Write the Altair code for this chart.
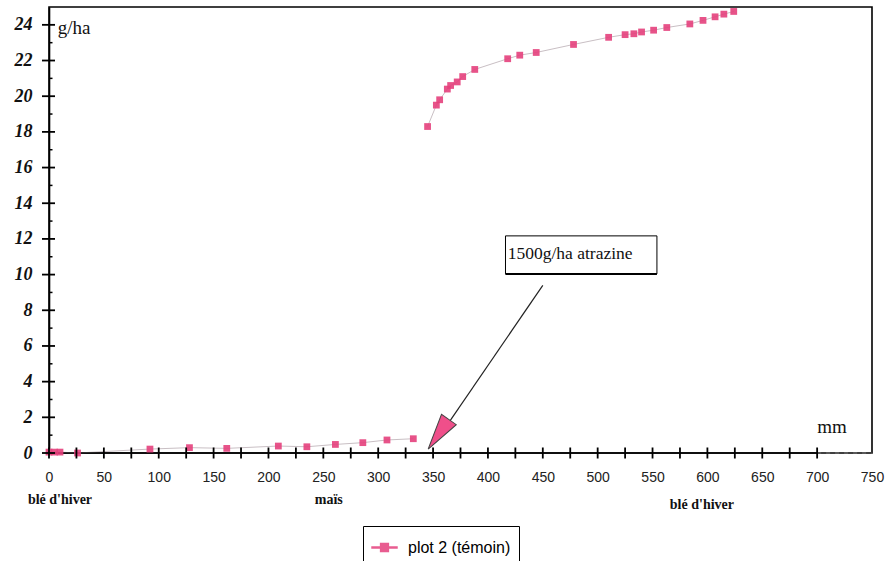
import altair as alt
import pandas as pd

# ---- data ----
seg1_x = [0, 5, 10, 26, 92, 128, 162, 209, 235, 261, 286, 308, 332]
seg1_y = [0.05, 0.05, 0.05, 0.0, 0.22, 0.3, 0.26, 0.39, 0.35, 0.48, 0.58, 0.73, 0.8]
seg2_x = [345, 353, 356, 363, 366, 372, 377, 388, 418, 429, 444, 478, 510,
          525, 533, 540, 551, 563, 584, 596, 607, 615, 624]
seg2_y = [18.3, 19.5, 19.8, 20.4, 20.6, 20.8, 21.1, 21.5, 22.1, 22.3, 22.45, 22.9, 23.3,
          23.45, 23.5, 23.6, 23.7, 23.85, 24.05, 24.25, 24.45, 24.6, 24.75]
series_name = "plot 2 (témoin)"

x_label_values = list(range(0, 751, 50))
x_tick_values = list(range(0, 701, 25))
y_major_values = list(range(0, 25, 2))
y_minor_values = list(range(1, 24, 2))

crop_labels = ["blé d'hiver", "maïs", "blé d'hiver"]
crop_x = [10, 255, 595]
crop_y = [-2.64, -2.64, -2.9]

note_text = "1500g/ha atrazine"
note_box = {"x": 416, "x2": 554, "y": 12.17, "y2": 10.04}
note_pos = {"x": 418, "y": 11.15}
arrow = {"x": 450, "y": 9.4, "x2": 352, "y2": 0.6}
arrow_head = {"x": 355, "y": 1.05}

PINK = "#e4407c"

W, H = 823, 446
X_DOM, Y_DOM = [0, 750], [0, 25]
px_x = (X_DOM[1] - X_DOM[0]) / W   # data units per pixel (x)
px_y = (Y_DOM[1] - Y_DOM[0]) / H   # data units per pixel (y)

points = pd.DataFrame({
    "x": seg1_x + seg2_x,
    "y": seg1_y + seg2_y,
    "seg": ["a"] * len(seg1_x) + ["b"] * len(seg2_x),
    "series": [series_name] * (len(seg1_x) + len(seg2_x)),
})

xs = alt.Scale(domain=X_DOM, nice=False, zero=False)
ys = alt.Scale(domain=Y_DOM, nice=False, zero=False)

XAXIS = alt.Axis(
    values=x_label_values, tickSize=0, domain=False, grid=False, title=None,
    labelFont="Liberation Sans", labelFontSize=14, labelColor="#222",
    labelPadding=17, labelFlush=False, labelOverlap=False)
YAXIS = alt.Axis(
    values=y_major_values, tickSize=0, domain=True, domainColor="black",
    domainWidth=1.6, grid=False, title=None, labelOverlap=False,
    labelFont="Liberation Serif", labelFontSize=18, labelFontStyle="italic",
    labelFontWeight="bold", labelColor="#111", labelPadding=17)


def X(f="x"):
    return alt.X(f + ":Q", scale=xs, axis=XAXIS)


def Y(f="y"):
    return alt.Y(f + ":Q", scale=ys, axis=YAXIS)


line = alt.Chart(points).mark_line(color="#c9bfc4", strokeWidth=1).encode(
    x=X(), y=Y(), detail="seg:N")

pts = alt.Chart(points).mark_square(size=46, opacity=0.9).encode(
    x=X(), y=Y(),
    color=alt.Color("series:N", scale=alt.Scale(domain=[series_name], range=[PINK]),
                    legend=alt.Legend(
                        title=None, orient="none", legendX=314, legendY=519,
                        strokeColor="black", padding=8, fillColor="white",
                        labelFont="Liberation Sans", labelFontSize=16, labelColor="black",
                        symbolType="M-1,-0.1H1V0.1H-1Z M-0.35,-0.35H0.35V0.35H-0.35Z",
                        symbolSize=700, symbolStrokeWidth=0, symbolOpacity=0.85,
                        labelOffset=10)))

# x-axis line: solid to 700, faint dashed to 750
axis_solid = alt.Chart(pd.DataFrame({"x": [0], "x2": [700], "y": [0]})).mark_rule(
    color="black", strokeWidth=1.6).encode(x=X(), x2="x2:Q", y=Y())
axis_dash = alt.Chart(pd.DataFrame({"x": [700], "x2": [750], "y": [0]})).mark_rule(
    color="#777", strokeWidth=1, strokeDash=[4, 5]).encode(x=X(), x2="x2:Q", y=Y())

# crossing ticks drawn as short rules
xt = pd.DataFrame({"xt": x_tick_values,
                   "yt": [-5.5 * px_y] * len(x_tick_values),
                   "yt2": [5.5 * px_y] * len(x_tick_values)})
x_ticks = alt.Chart(xt).mark_rule(color="#000000", strokeWidth=1.8).encode(
    x=X("xt"), y=Y("yt"), y2="yt2:Q")

ytm = pd.DataFrame({"ym": y_major_values,
                    "xm": [-7 * px_x] * len(y_major_values),
                    "xm2": [6 * px_x] * len(y_major_values)})
y_ticks = alt.Chart(ytm).mark_rule(color="#000000", strokeWidth=1.8).encode(
    x=X("xm"), x2="xm2:Q", y=Y("ym"))
ytn = pd.DataFrame({"yn": y_minor_values,
                    "xn": [0.0] * len(y_minor_values),
                    "xn2": [3.5 * px_x] * len(y_minor_values)})
y_minor = alt.Chart(ytn).mark_rule(color="#000000", strokeWidth=1.5).encode(
    x=X("xn"), x2="xn2:Q", y=Y("yn"))

units = pd.DataFrame({"t": ["g/ha", "mm"], "x": [8, 700], "y": [23.8, 1.46]})
unit_text = alt.Chart(units).mark_text(font="Liberation Serif", fontSize=19, align="left",
                                       baseline="middle", color="#111").encode(
    x=X(), y=Y(), text="t:N")

crops = pd.DataFrame({"t": crop_labels, "x": crop_x, "y": crop_y})
crop_text = alt.Chart(crops).mark_text(font="Liberation Serif", fontSize=14, fontWeight="bold",
                                       align="center", baseline="middle", color="#111").encode(
    x=X(), y=Y(), text="t:N")

box = alt.Chart(pd.DataFrame([note_box])).mark_rect(fill="white", stroke="black", strokeWidth=1).encode(
    x=X(), x2="x2:Q", y=Y(), y2="y2:Q")
box_shadow = alt.Chart(pd.DataFrame([note_box])).mark_rule(color="black", strokeWidth=2).encode(
    x=X(), x2="x2:Q", y=Y("y2"))
note = alt.Chart(pd.DataFrame([{"t": note_text, **note_pos}])).mark_text(
    font="Liberation Serif", fontSize=17.5, align="left", baseline="middle", color="#111").encode(
    x=X(), y=Y(), text="t:N")

arrow_line = alt.Chart(pd.DataFrame([arrow])).mark_rule(color="#222", strokeWidth=1.2).encode(
    x=X(), x2="x2:Q", y=Y(), y2="y2:Q")
head = alt.Chart(pd.DataFrame([arrow_head])).mark_point(
    shape="M0,-1L0.5,1L-0.5,1Z", filled=True, fill="#ef4f8a", stroke="#444",
    strokeWidth=1, opacity=1, size=1300, angle=215).encode(
    x=X(), y=Y())

chart = alt.layer(
    line, axis_solid, axis_dash, pts,
    unit_text, crop_text, box, box_shadow, note, arrow_line, head,
    x_ticks, y_ticks, y_minor
).properties(
    width=W, height=H,
    autosize=alt.AutoSizeParams(type="none"),
    padding={"left": 49, "top": 7, "right": 13, "bottom": 108},
    background="white",
).configure_view(stroke="black", strokeWidth=1.6)

chart.save("out.html", embed_options={"renderer": "svg", "actions": False})
